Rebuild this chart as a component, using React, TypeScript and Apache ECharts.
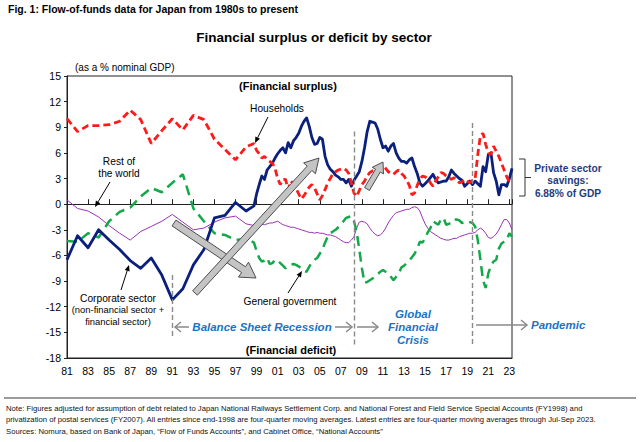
import React, { useEffect, useRef } from "react";
import * as echarts from "echarts";

// ---------- data (year, % of nominal GDP) ----------
const BASE_YEAR = 1981;
const X_MAX_YEAR = 2023.25;
const Y_MIN = -18;
const Y_MAX = 15;
const Y_STEP = 3;
const X_STEP = 2;

const households: [number, number][] = [
  [1981, 10.0], [1982, 8.5], [1983, 9.2], [1984, 9.2], [1985, 9.3], [1986, 9.7], [1987, 11.0], [1988, 9.9],
  [1989, 7.1], [1990, 8.6], [1991, 10.0], [1992, 8.7], [1993, 10.4], [1994, 9.9], [1995, 7.6], [1996, 6.4],
  [1997, 5.2], [1998, 6.7], [1998.75, 7.1], [1999, 6.3], [1999.25, 5.9], [1999.5, 5.4], [1999.75, 5.6],
  [2000, 5.2], [2000.25, 5.0], [2000.5, 4.8], [2000.75, 4.2], [2001, 3.0], [2001.25, 2.3], [2001.5, 2.9],
  [2001.75, 2.9], [2002, 1.7], [2002.25, 2.7], [2002.5, 2.4], [2002.75, 1.8], [2003, 1.2], [2003.25, 0.6],
  [2003.5, 1.0], [2003.75, 1.5], [2004, 2.0], [2004.25, 2.3], [2004.5, 1.9], [2004.75, 1.2], [2005, 0.5],
  [2005.25, 1.0], [2005.5, 1.7], [2005.75, 2.5], [2006, 3.0], [2006.25, 3.6], [2006.5, 3.8], [2006.75, 4.0],
  [2007, 4.1], [2007.25, 4.2], [2007.5, 4.0], [2007.75, 3.6], [2008, 2.5], [2008.25, 1.3], [2008.5, 0.9],
  [2008.75, 1.6], [2009, 2.3], [2009.25, 2.7], [2009.5, 3.3], [2009.75, 3.7], [2010, 3.9], [2010.25, 4.0],
  [2010.5, 4.2], [2010.75, 4.4], [2011, 4.6], [2011.25, 4.2], [2011.5, 3.8], [2011.75, 3.6], [2012, 3.5],
  [2012.25, 3.8], [2012.5, 4.0], [2012.75, 3.6], [2013, 3.3], [2013.25, 2.8], [2013.5, 2.2], [2013.75, 1.1],
  [2014, 1.3], [2014.25, 2.2], [2014.5, 2.9], [2014.75, 3.3], [2015, 3.2], [2015.25, 3.0], [2015.5, 2.5],
  [2015.75, 2.1], [2016, 2.7], [2016.25, 3.2], [2016.5, 3.7], [2016.75, 3.6], [2017, 3.3], [2017.25, 3.1],
  [2017.5, 2.9], [2017.75, 3.1], [2018, 2.8], [2018.25, 2.5], [2018.5, 2.6], [2018.75, 2.9], [2019, 2.7],
  [2019.25, 2.5], [2019.5, 2.8], [2019.75, 3.0], [2020, 5.8], [2020.25, 8.0], [2020.5, 8.3], [2020.75, 7.0],
  [2021, 6.0], [2021.25, 5.8], [2021.5, 6.8], [2021.75, 6.2], [2022, 5.6], [2022.25, 4.8], [2022.5, 4.0],
  [2022.75, 3.2], [2023, 2.6], [2023.25, 2.7],
];

const corporate: [number, number][] = [
  [1981, -6.5], [1982, -3.7], [1983, -5.1], [1984, -3.0], [1985, -4.2], [1986, -5.3], [1987, -6.6], [1988, -7.5],
  [1989, -6.3], [1990, -8.3], [1991, -11.2], [1992, -9.9], [1993, -7.1], [1994, -5.3], [1995, -1.6], [1996, -1.3],
  [1997, 0.2], [1998, -0.8], [1998.75, -0.2], [1999, 1.2], [1999.25, 2.3], [1999.5, 3.3], [1999.75, 2.9],
  [2000, 4.0], [2000.25, 4.4], [2000.5, 4.8], [2000.75, 5.4], [2001, 5.9], [2001.25, 6.3], [2001.5, 6.6],
  [2001.75, 6.0], [2002, 7.2], [2002.25, 6.6], [2002.5, 7.4], [2002.75, 7.8], [2003, 8.3], [2003.25, 9.1],
  [2003.5, 9.7], [2003.75, 10.1], [2004, 9.1], [2004.25, 7.8], [2004.5, 7.0], [2004.75, 7.1], [2005, 7.8],
  [2005.25, 7.6], [2005.5, 5.6], [2005.75, 4.6], [2006, 4.1], [2006.25, 3.8], [2006.5, 3.4], [2006.75, 3.2],
  [2007, 2.9], [2007.25, 2.9], [2007.5, 2.5], [2007.75, 2.9], [2008, 2.1], [2008.25, 2.8], [2008.5, 3.3],
  [2008.75, 3.8], [2009, 5.0], [2009.25, 6.6], [2009.5, 8.5], [2009.75, 9.7], [2010, 9.6], [2010.25, 9.5],
  [2010.5, 8.8], [2010.75, 7.6], [2011, 6.6], [2011.25, 6.8], [2011.5, 6.2], [2011.75, 6.8], [2012, 7.1],
  [2012.25, 6.0], [2012.5, 5.4], [2012.75, 5.0], [2013, 5.0], [2013.25, 4.8], [2013.5, 5.2], [2013.75, 5.4],
  [2014, 4.4], [2014.25, 3.6], [2014.5, 2.5], [2014.75, 2.1], [2015, 2.4], [2015.25, 2.7], [2015.5, 3.1],
  [2015.75, 3.5], [2016, 2.9], [2016.25, 2.5], [2016.5, 2.6], [2016.75, 2.7], [2017, 2.7], [2017.25, 3.2],
  [2017.5, 4.0], [2017.75, 3.6], [2018, 3.3], [2018.25, 3.0], [2018.5, 2.8], [2018.75, 2.1], [2019, 2.4],
  [2019.25, 2.7], [2019.5, 2.3], [2019.75, 2.7], [2020, 2.4], [2020.25, 2.1], [2020.5, 4.4], [2020.75, 3.8],
  [2021, 5.8], [2021.25, 6.0], [2021.5, 3.7], [2021.75, 2.7], [2022, 1.1], [2022.25, 2.3], [2022.5, 2.3],
  [2022.75, 2.1], [2023, 3.0], [2023.25, 4.2],
];

const government: [number, number][] = [
  [1981, -4.3], [1982, -4.4], [1983, -3.4], [1984, -3.9], [1985, -2.0], [1986, -0.9], [1987, -0.4], [1988, 0.9],
  [1989, 1.9], [1990, 1.4], [1991, 2.5], [1992, 3.5], [1993, -0.5], [1994, -2.0], [1995, -3.4], [1996, -3.6],
  [1997, -4.2], [1998, -4.0], [1998.75, -4.5], [1999, -5.5], [1999.25, -6.3], [1999.5, -6.7], [1999.75, -6.6],
  [2000, -6.3], [2000.25, -7.0], [2000.5, -6.9], [2000.75, -6.5], [2001, -6.6], [2001.25, -6.9], [2001.5, -7.2],
  [2001.75, -7.5], [2002, -7.3], [2002.25, -7.1], [2002.5, -7.0], [2002.75, -7.1], [2003, -7.3], [2003.25, -7.5],
  [2003.5, -7.8], [2003.75, -7.9], [2004, -7.3], [2004.25, -6.8], [2004.5, -6.5], [2004.75, -6.3], [2005, -5.8],
  [2005.25, -5.3], [2005.5, -4.5], [2005.75, -3.8], [2006, -3.4], [2006.25, -3.2], [2006.5, -3.0], [2006.75, -2.7],
  [2007, -2.4], [2007.25, -2.0], [2007.5, -1.6], [2007.75, -1.5], [2008, -1.4], [2008.25, -2.0], [2008.5, -3.2],
  [2008.75, -5.3], [2009, -7.5], [2009.25, -9.2], [2009.5, -9.1], [2009.75, -8.9], [2010, -8.7], [2010.25, -8.5],
  [2010.5, -8.2], [2010.75, -7.9], [2011, -7.7], [2011.25, -7.9], [2011.5, -8.1], [2011.75, -8.5], [2012, -8.9],
  [2012.25, -8.5], [2012.5, -8.1], [2012.75, -7.4], [2013, -7.2], [2013.25, -6.9], [2013.5, -6.6], [2013.75, -6.2],
  [2014, -5.8], [2014.25, -5.2], [2014.5, -4.4], [2014.75, -4.5], [2015, -4.0], [2015.25, -3.3], [2015.5, -2.8],
  [2015.75, -2.0], [2016, -2.2], [2016.25, -2.4], [2016.5, -1.8], [2016.75, -1.6], [2017, -2.4], [2017.25, -2.3],
  [2017.5, -2.2], [2017.75, -1.8], [2018, -1.8], [2018.25, -1.9], [2018.5, -2.2], [2018.75, -2.1], [2019, -2.0],
  [2019.25, -2.1], [2019.5, -2.2], [2019.75, -2.6], [2020, -4.2], [2020.25, -6.5], [2020.5, -8.9], [2020.75, -9.8],
  [2021, -8.1], [2021.25, -7.2], [2021.5, -6.7], [2021.75, -6.5], [2022, -5.2], [2022.25, -4.6], [2022.5, -4.4],
  [2022.75, -4.2], [2023, -3.4], [2023.25, -3.8],
];

const restOfWorld: [number, number][] = [
  [1981, 0.5], [1982, -0.5], [1983, -0.8], [1984, -1.5], [1985, -2.5], [1986, -3.4], [1987, -4.2], [1988, -3.2],
  [1989, -2.6], [1990, -2.0], [1991, -1.2], [1992, -2.1], [1993, -3.0], [1994, -2.8], [1995, -2.1], [1996, -1.6],
  [1997, -1.4], [1998, -2.3], [1998.75, -2.5], [1999, -2.4], [1999.25, -2.3], [1999.5, -2.3], [1999.75, -2.4],
  [2000, -2.3], [2000.25, -2.2], [2000.5, -2.2], [2000.75, -2.1], [2001, -2.0], [2001.25, -2.2], [2001.5, -2.4],
  [2001.75, -2.5], [2002, -2.6], [2002.25, -2.7], [2002.5, -2.7], [2002.75, -2.8], [2003, -2.9], [2003.25, -3.0],
  [2003.5, -3.1], [2003.75, -3.2], [2004, -3.3], [2004.25, -3.3], [2004.5, -3.4], [2004.75, -3.3], [2005, -3.4],
  [2005.25, -3.4], [2005.5, -3.5], [2005.75, -3.6], [2006, -3.6], [2006.25, -3.7], [2006.5, -3.8], [2006.75, -4.0],
  [2007, -4.2], [2007.25, -4.4], [2007.5, -4.5], [2007.75, -4.5], [2008, -4.2], [2008.25, -3.8], [2008.5, -2.8],
  [2008.75, -2.1], [2009, -2.0], [2009.25, -2.1], [2009.5, -2.3], [2009.75, -2.8], [2010, -3.2], [2010.25, -3.5],
  [2010.5, -3.7], [2010.75, -3.6], [2011, -3.3], [2011.25, -2.8], [2011.5, -2.2], [2011.75, -1.7], [2012, -1.3],
  [2012.25, -1.0], [2012.5, -0.9], [2012.75, -0.8], [2013, -0.7], [2013.25, -0.6], [2013.5, -0.6], [2013.75, -0.4],
  [2014, -0.3], [2014.25, -0.4], [2014.5, -0.8], [2014.75, -1.6], [2015, -2.3], [2015.25, -2.8], [2015.5, -3.2],
  [2015.75, -3.4], [2016, -3.6], [2016.25, -3.8], [2016.5, -4.0], [2016.75, -4.1], [2017, -4.2], [2017.25, -4.2],
  [2017.5, -4.1], [2017.75, -4.0], [2018, -4.0], [2018.25, -3.8], [2018.5, -3.7], [2018.75, -3.6], [2019, -3.5],
  [2019.25, -3.4], [2019.5, -3.4], [2019.75, -3.3], [2020, -3.0], [2020.25, -2.8], [2020.5, -3.0], [2020.75, -3.4],
  [2021, -3.9], [2021.25, -4.0], [2021.5, -3.8], [2021.75, -3.5], [2022, -3.0], [2022.25, -2.4], [2022.5, -1.8],
  [2022.75, -1.8], [2023, -2.2], [2023.25, -3.0],
];

// period dividers: [year, from value, to value]
const dividers: [number, number, number][] = [
  [1991, -8.3, -15.7],
  [2008.25, 8.5, -16.7],
  [2019.5, 9.5, -16.7],
];

// ---------- styling ----------
const FONT = "'Liberation Sans', Arial, Helvetica, sans-serif";
const NAVY = "#0b1f7c";
const RED = "#ff1a1a";
const GREEN = "#13a84a";
const PURPLE = "#9a32b5";
const BLUE_TXT = "#1a73c4";
const GREY = "#8a8a8a";

const toXY = (arr: [number, number][]) => arr.map(([y, v]) => [y - BASE_YEAR, v]);

type Pt = [number, number];

function text(x: number, y: number, t: string, font: string, fill = "#000", align = "center", lineHeight?: number) {
  return {
    type: "text",
    x,
    y,
    z: 100,
    silent: true,
    style: {
      text: t,
      font,
      fill,
      align,
      verticalAlign: "middle",
      textAlign: align,
      textVerticalAlign: "middle",
      lineHeight,
    },
  };
}

function thinArrow(a: Pt, b: Pt, color = "#000", headLen = 6, headHalf = 2.6) {
  const dx = b[0] - a[0];
  const dy = b[1] - a[1];
  const len = Math.hypot(dx, dy);
  const ux = dx / len;
  const uy = dy / len;
  const bx = b[0] - ux * headLen;
  const by = b[1] - uy * headLen;
  return [
    { type: "line", z: 100, silent: true, shape: { x1: a[0], y1: a[1], x2: bx, y2: by }, style: { stroke: color, lineWidth: 1 } },
    {
      type: "polygon",
      z: 100,
      silent: true,
      shape: { points: [b, [bx - uy * headHalf, by + ux * headHalf], [bx + uy * headHalf, by - ux * headHalf]] },
      style: { fill: color },
    },
  ];
}

function openArrow(a: Pt, b: Pt, color = GREY, headLen = 6, headHalf = 5) {
  const dx = b[0] - a[0];
  const dy = b[1] - a[1];
  const len = Math.hypot(dx, dy);
  const ux = dx / len;
  const uy = dy / len;
  const bx = b[0] - ux * headLen;
  const by = b[1] - uy * headLen;
  return [
    { type: "line", z: 100, silent: true, shape: { x1: a[0], y1: a[1], x2: b[0], y2: b[1] }, style: { stroke: color, lineWidth: 1.5 } },
    {
      type: "polyline",
      z: 100,
      silent: true,
      shape: { points: [[bx - uy * headHalf, by + ux * headHalf], b, [bx + uy * headHalf, by - ux * headHalf]] },
      style: { stroke: color, lineWidth: 1.5, fill: null },
    },
  ];
}

function blockArrow(a: Pt, b: Pt, shaftHalf: number, headHalf: number, headLen: number) {
  const dx = b[0] - a[0];
  const dy = b[1] - a[1];
  const len = Math.hypot(dx, dy);
  const ux = dx / len;
  const uy = dy / len;
  const nx = -uy;
  const ny = ux;
  const bx = b[0] - ux * headLen;
  const by = b[1] - uy * headLen;
  const pts: Pt[] = [
    [a[0] + nx * shaftHalf, a[1] + ny * shaftHalf],
    [bx + nx * shaftHalf, by + ny * shaftHalf],
    [bx + nx * headHalf, by + ny * headHalf],
    b,
    [bx - nx * headHalf, by - ny * headHalf],
    [bx - nx * shaftHalf, by - ny * shaftHalf],
    [a[0] - nx * shaftHalf, a[1] - ny * shaftHalf],
  ];
  return {
    type: "polygon",
    z: 100,
    silent: true,
    shape: { points: pts },
    style: { fill: "#c4c4c4", stroke: "#4d4d4d", lineWidth: 1, lineJoin: "miter" },
  };
}

const noteLine1 =
  "Note: Figures adjusted for assumption of debt related to Japan National Railways Settlement Corp. and National Forest and Field Service Special Accounts (FY1998) and";
const noteLine2 =
  "privatization of postal services (FY2007). All entries since end-1998 are four-quarter moving averages. Latest entries are four-quarter moving averages through Jul-Sep 2023.";
const sourcesLine =
  "Sources: Nomura, based on Bank of Japan, \u201CFlow of Funds Accounts\u201D, and Cabinet Office, \u201CNational Accounts\u201D";

function buildGraphic() {
  const g: any[] = [];
  g.push(text(8, 9, "Fig. 1: Flow-of-funds data for Japan from 1980s to present", `bold 10.5px ${FONT}`, "#000", "left"));
  g.push(text(314, 37, "Financial surplus or deficit by sector", `bold 13.5px ${FONT}`));
  g.push(text(75, 67, "(as a % nominal GDP)", `10px ${FONT}`, "#000", "left"));
  g.push(text(288, 86, "(Financial surplus)", `bold 11px ${FONT}`));
  g.push(text(291, 350, "(Financial deficit)", `bold 11px ${FONT}`));

  // sector labels
  g.push(text(277, 108, "Households", `10.2px ${FONT}`));
  g.push(...thinArrow([268, 117], [255, 143]));
  g.push(text(119, 167, "Rest of\nthe world", `10.2px ${FONT}`, "#000", "center", 12));
  g.push(...thinArrow([110, 182], [95, 207]));
  g.push(text(118, 298, "Corporate sector", `10.2px ${FONT}`));
  g.push(text(118, 315.5, "(non-financial sector +\nfinancial sector)", `9.4px ${FONT}`, "#000", "center", 11.5));
  g.push(...thinArrow([121, 290], [129, 265]));
  g.push(text(290, 301, "General government", `10.2px ${FONT}`));
  g.push(...thinArrow([288, 293], [302, 271]));

  // grey block arrows
  g.push(blockArrow([174, 223], [256, 278], 3.5, 9, 15));
  g.push(blockArrow([195, 293], [319, 158], 3.2, 8, 14));
  g.push(blockArrow([367, 189], [383, 162], 2.8, 6.5, 10));

  // period annotations
  g.push(...openArrow([189, 327], [175, 327]));
  g.push(text(262, 327, "Balance Sheet Recession", `italic bold 11.5px ${FONT}`, BLUE_TXT));
  g.push(...openArrow([335, 327], [352, 327]));
  g.push(...openArrow([357, 327], [378, 327]));
  g.push(text(413, 327, "Global\nFinancial\nCrisis", `italic bold 11.5px ${FONT}`, BLUE_TXT, "center", 13));
  g.push(...openArrow([476, 325], [527, 325]));
  g.push(text(531, 325, "Pandemic", `italic bold 11.5px ${FONT}`, BLUE_TXT, "left"));

  // private savings bracket
  g.push({
    type: "polyline",
    z: 100,
    silent: true,
    shape: { points: [[519, 159], [525, 159], [525, 196], [519, 196]] },
    style: { stroke: "#333", lineWidth: 1, fill: null },
  });
  g.push({ type: "line", z: 100, silent: true, shape: { x1: 525, y1: 177.5, x2: 531, y2: 177.5 }, style: { stroke: "#333", lineWidth: 1 } });
  g.push(text(568, 180.5, "Private sector\nsavings:\n6.88% of GDP", `bold 10.2px ${FONT}`, "#1f3c80", "center", 12.5));

  // footer
  g.push({ type: "line", z: 100, silent: true, shape: { x1: 4, y1: 398, x2: 636, y2: 398 }, style: { stroke: "#7a7a7a", lineWidth: 1.5 } });
  g.push(text(6, 408, noteLine1, `7.7px ${FONT}`, "#111", "left"));
  g.push(text(6, 419, noteLine2, `7.7px ${FONT}`, "#111", "left"));
  g.push(text(6, 431, sourcesLine, `7.7px ${FONT}`, "#111", "left"));
  return g;
}

const xLabel = (v: number) =>
  Number.isInteger(v) && v % X_STEP === 0 ? String((BASE_YEAR + v) % 100).padStart(2, "0") : "";

function buildOption(): any {
  const xMax = X_MAX_YEAR - BASE_YEAR;
  return {
    animation: false,
    backgroundColor: "#fff",
    grid: { left: 67, right: 128, top: 76, bottom: 84, show: true, borderColor: "#222", borderWidth: 1, backgroundColor: "transparent" },
    xAxis: [
      {
        type: "value",
        min: 0,
        max: xMax,
        interval: X_STEP,
        position: "bottom",
        axisLine: { show: true, onZero: false, lineStyle: { color: "#222", width: 1 } },
        axisTick: { show: false },
        splitLine: { show: false },
        axisLabel: { formatter: xLabel, color: "#000", fontFamily: FONT, fontSize: 10.5, margin: 7 },
      },
      {
        type: "value",
        min: 0,
        max: xMax,
        interval: X_STEP,
        position: "top",
        axisLine: { show: true, onZero: true, lineStyle: { color: "#222", width: 1 } },
        axisTick: { show: true, inside: false, length: 5, lineStyle: { color: "#222", width: 1 } },
        splitLine: { show: false },
        axisLabel: { show: false },
      },
    ],
    yAxis: {
      type: "value",
      min: Y_MIN,
      max: Y_MAX,
      interval: Y_STEP,
      axisLine: { show: true, onZero: false, lineStyle: { color: "#222", width: 1 } },
      axisTick: { show: true, length: 3, lineStyle: { color: "#222" } },
      splitLine: { show: false },
      axisLabel: { color: "#000", fontFamily: FONT, fontSize: 10.5, margin: 6 },
    },
    series: [
      {
        name: "Rest of the world",
        type: "line",
        data: toXY(restOfWorld),
        showSymbol: false,
        symbol: "none",
        lineStyle: { color: PURPLE, width: 1 },
        markLine: {
          silent: true,
          symbol: "none",
          label: { show: false },
          lineStyle: { color: GREY, type: [5, 3], width: 1.4 },
          data: dividers.map(([yr, a, b]) => [{ coord: [yr - BASE_YEAR, a] }, { coord: [yr - BASE_YEAR, b] }]),
        },
      },
      {
        name: "General government",
        type: "line",
        data: toXY(government),
        showSymbol: false,
        symbol: "none",
        lineStyle: { color: GREEN, width: 2.5, type: [10, 6] },
      },
      {
        name: "Corporate sector",
        type: "line",
        data: toXY(corporate),
        showSymbol: false,
        symbol: "none",
        lineStyle: { color: NAVY, width: 2.8, join: "round" },
      },
      {
        name: "Households",
        type: "line",
        data: toXY(households),
        showSymbol: false,
        symbol: "none",
        lineStyle: { color: RED, width: 2.8, type: [7, 4] },
      },
    ],
    graphic: buildGraphic(),
  };
}

export default function App() {
  const ref = useRef<HTMLDivElement>(null);
  useEffect(() => {
    if (!ref.current) return;
    const chart = echarts.init(ref.current, null, { renderer: "svg" });
    chart.setOption(buildOption());
    return () => chart.dispose();
  }, []);
  return (
    <div
      ref={ref}
      style={{ position: "fixed", left: 0, top: 0, width: 640, height: 442, background: "#fff" }}
    />
  );
}
